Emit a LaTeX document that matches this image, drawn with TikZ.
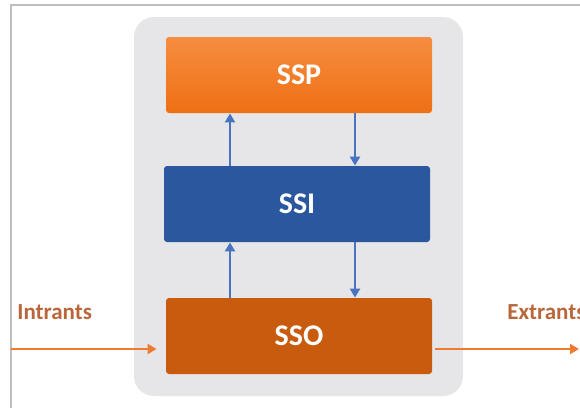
\documentclass[tikz,border=0pt]{standalone}
\usepackage{fontspec}
\setmainfont{Carlito}
\usetikzlibrary{arrows.meta}

\definecolor{panelgray}{HTML}{E6E6E8}
\definecolor{framegray}{HTML}{BDBDBD}
\definecolor{sspTop}{HTML}{F58D40}
\definecolor{sspBot}{HTML}{EF6F14}
\definecolor{ssiBlue}{HTML}{2B579E}
\definecolor{ssoOrange}{HTML}{C95B0F}
\definecolor{linkBlue}{HTML}{4A74C0}
\definecolor{flowOrange}{HTML}{EC7C32}
\definecolor{flowText}{HTML}{B9673A}

\begin{document}
\begin{tikzpicture}[x=0.5pt,y=-0.5pt,
	every node/.style={font=\bfseries},
	sysbox/.style={rectangle, rounded corners=1.5pt, minimum width=133pt,
		minimum height=38pt, inner sep=0pt, text=white,
		font=\bfseries\fontsize{15}{17}\selectfont},
	link/.style={linkBlue, line width=1.4pt, -{Triangle[length=4.5pt,width=5pt]}},
	flow/.style={flowOrange, line width=1.3pt, -{Triangle[length=4.5pt,width=5pt]}},
	flowlabel/.style={anchor=west, text=flowText, inner sep=0pt,
		font=\bfseries\fontsize{11.5}{13}\selectfont}]
	\useasboundingbox (0,0) rectangle (580,408);

	% frame and panel
	\draw[framegray, line width=1pt] (11,420) -- (11,5) -- (600,5);
	\fill[panelgray, rounded corners=10pt] (134,17) rectangle (463,396);

	% subsystems
	\node[sysbox, top color=sspTop, bottom color=sspBot] (ssp) at (299,75) {SSP};
	\node[sysbox, fill=ssiBlue] (ssi) at (297,204) {SSI};
	\node[sysbox, fill=ssoOrange] (sso) at (299,336) {SSO};

	\coordinate (up) at (230,0);
	\coordinate (down) at (355,0);

	\draw[link] (ssi.north -| up) -- (ssp.south -| up);
	\draw[link] (ssp.south -| down) -- (ssi.north -| down);
	\draw[link] (sso.north -| up) -- (ssi.south -| up);
	\draw[link] (ssi.south -| down) -- (sso.north -| down);

	% inputs and outputs
	\coordinate (in) at (11,349);
	\coordinate (out) at (579,349);
	\draw[flow, shorten >=4.5pt] (in) -- (sso.west |- in);
	\draw[flow, shorten <=1.5pt] (sso.east |- out) -- (out);

	\node[flowlabel] (intrants) at (17,312) {Intrants};
	\node[flowlabel] (extrants) at (507,312) {Extrants};
\end{tikzpicture}
\end{document}
